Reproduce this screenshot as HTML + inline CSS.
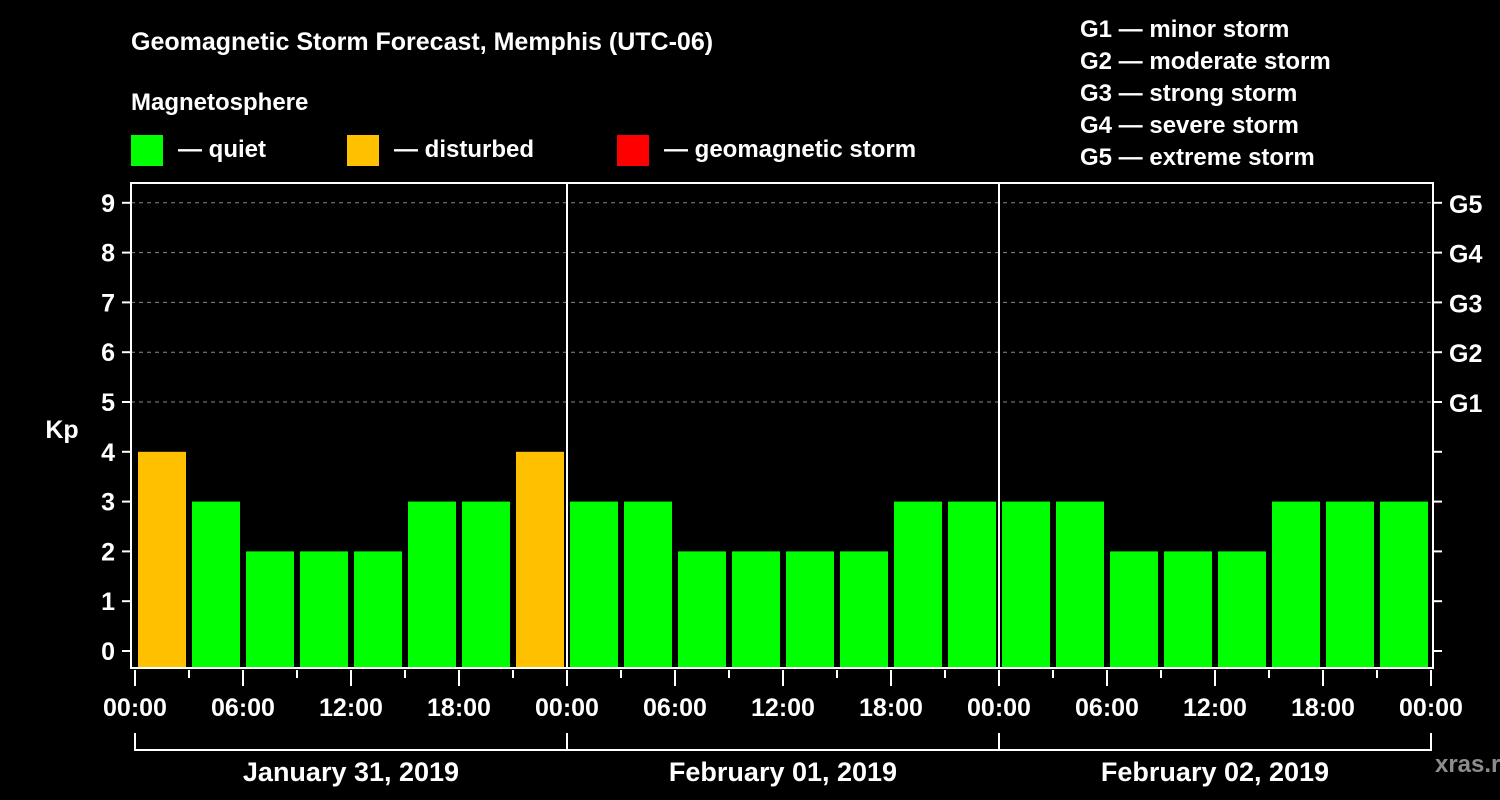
<!DOCTYPE html>
<html><head><meta charset="utf-8"><style>
html,body{margin:0;padding:0;background:#000;}
svg{display:block;font-family:"Liberation Sans",Arial,sans-serif;font-weight:bold;}
</style></head><body>
<svg id="c" width="1500" height="800" viewBox="0 0 1500 800">
<rect width="1500" height="800" fill="#000"/>
<text x="131" y="50" fill="#fff" font-size="25">Geomagnetic Storm Forecast, Memphis (UTC-06)</text>
<text x="131" y="110" fill="#fff" font-size="24">Magnetosphere</text>
<g><rect x="131" y="135" width="32" height="31" fill="#00ff00"/><text x="178" y="157" fill="#fff" font-size="24">— quiet</text></g>
<g><rect x="347" y="135" width="32" height="31" fill="#ffc000"/><text x="394" y="157" fill="#fff" font-size="24">— disturbed</text></g>
<g><rect x="617" y="135" width="32" height="31" fill="#ff0000"/><text x="664" y="157" fill="#fff" font-size="24">— geomagnetic storm</text></g>
<g fill="#fff" font-size="24">
<text x="1080" y="37">G1 — minor storm</text>
<text x="1080" y="69">G2 — moderate storm</text>
<text x="1080" y="101">G3 — strong storm</text>
<text x="1080" y="133">G4 — severe storm</text>
<text x="1080" y="165">G5 — extreme storm</text>
</g>
<text x="62" y="438" fill="#fff" font-size="25" text-anchor="middle">Kp</text>
<text x="1475" y="772" fill="#fff" fill-opacity="0.55" font-size="24" text-anchor="middle">xras.ru</text>
<g id="plot"></g>
</svg>
<script>
const kpValues=[4,3,2,2,2,3,3,4, 3,3,2,2,2,2,3,3, 3,3,2,2,2,3,3,3];
const dayLabels=["January 31, 2019","February 01, 2019","February 02, 2019"];
const hourLabels=["00:00","06:00","12:00","18:00"];
const yTicks=[0,1,2,3,4,5,6,7,8,9];
const gLabels=["G1","G2","G3","G4","G5"];
const NS="http://www.w3.org/2000/svg";
const g=document.getElementById('plot');
const X0=135,SLOT=54,L=131,R=1433,T=183,B=668;
const xs=i=>X0+i*SLOT;
const ys=v=>651-v*49.8;
function mk(t,a,p){const e=document.createElementNS(NS,t);for(const k in a)e.setAttribute(k,a[k]);(p||g).appendChild(e);return e;}
// grid
yTicks.forEach(v=>{
 if(v>=5){const l=mk('line',{x1:L,x2:R,y1:ys(v),y2:ys(v),stroke:'#888','stroke-dasharray':'4,4','stroke-width':1});
 
 }
 const t=mk('line',{x1:L-9,x2:L,y1:ys(v),y2:ys(v),stroke:'#fff','stroke-width':2});
 
 
 const tr=mk('line',{x1:R,x2:R+9,y1:ys(v),y2:ys(v),stroke:'#fff','stroke-width':2});
 
 
 const tx=mk('text',{x:L-16,y:ys(v)+9,fill:'#fff','font-size':25,'text-anchor':'end'});
 tx.textContent=v;
 
 
});
gLabels.forEach((s,i)=>{
 const tx=mk('text',{x:R+16,y:ys(5+i)+10,fill:'#fff','font-size':25});
 tx.textContent=s;
 
 
});
// bars
kpValues.forEach((v,i)=>{
 const col=v>=5?'#ff0000':(v>=4?'#ffc000':'#00ff00');
 const b=mk('rect',{x:xs(i)+3,y:ys(v),width:SLOT-6,height:B-ys(v),fill:col});
 
 
});
// day separators
for(let d=1;d<dayLabels.length;d++){
 const l=mk('line',{x1:xs(d*8),x2:xs(d*8),y1:T,y2:B,stroke:'#fff','stroke-width':2});
 
 
}
// frame
const fr=mk('rect',{x:L,y:T,width:R-L,height:B-T,fill:'none',stroke:'#fff','stroke-width':2});


// x ticks
for(let i=0;i<=kpValues.length;i++){
 const major=i%2===0;
 const t=mk('line',{x1:xs(i),x2:xs(i),y1:B+2,y2:major?B+18:B+10,stroke:'#fff','stroke-width':2});
 
 
 if(major){
  const tx=mk('text',{x:xs(i),y:716,fill:'#fff','font-size':25,'text-anchor':'middle'});
  tx.textContent=hourLabels[(i/2)%4];
  
  
 }
}
// day brackets
dayLabels.forEach((s,d)=>{
 const a=xs(d*8),b=xs(d*8+8);
 const p=mk('path',{d:`M${a},733V750H${b}V733`,fill:'none',stroke:'#fff','stroke-width':2});
 
 
 const tx=mk('text',{x:(a+b)/2,y:781,fill:'#fff','font-size':27,'text-anchor':'middle'});
 tx.textContent=s;
 
 
});
</script>
</body></html>
